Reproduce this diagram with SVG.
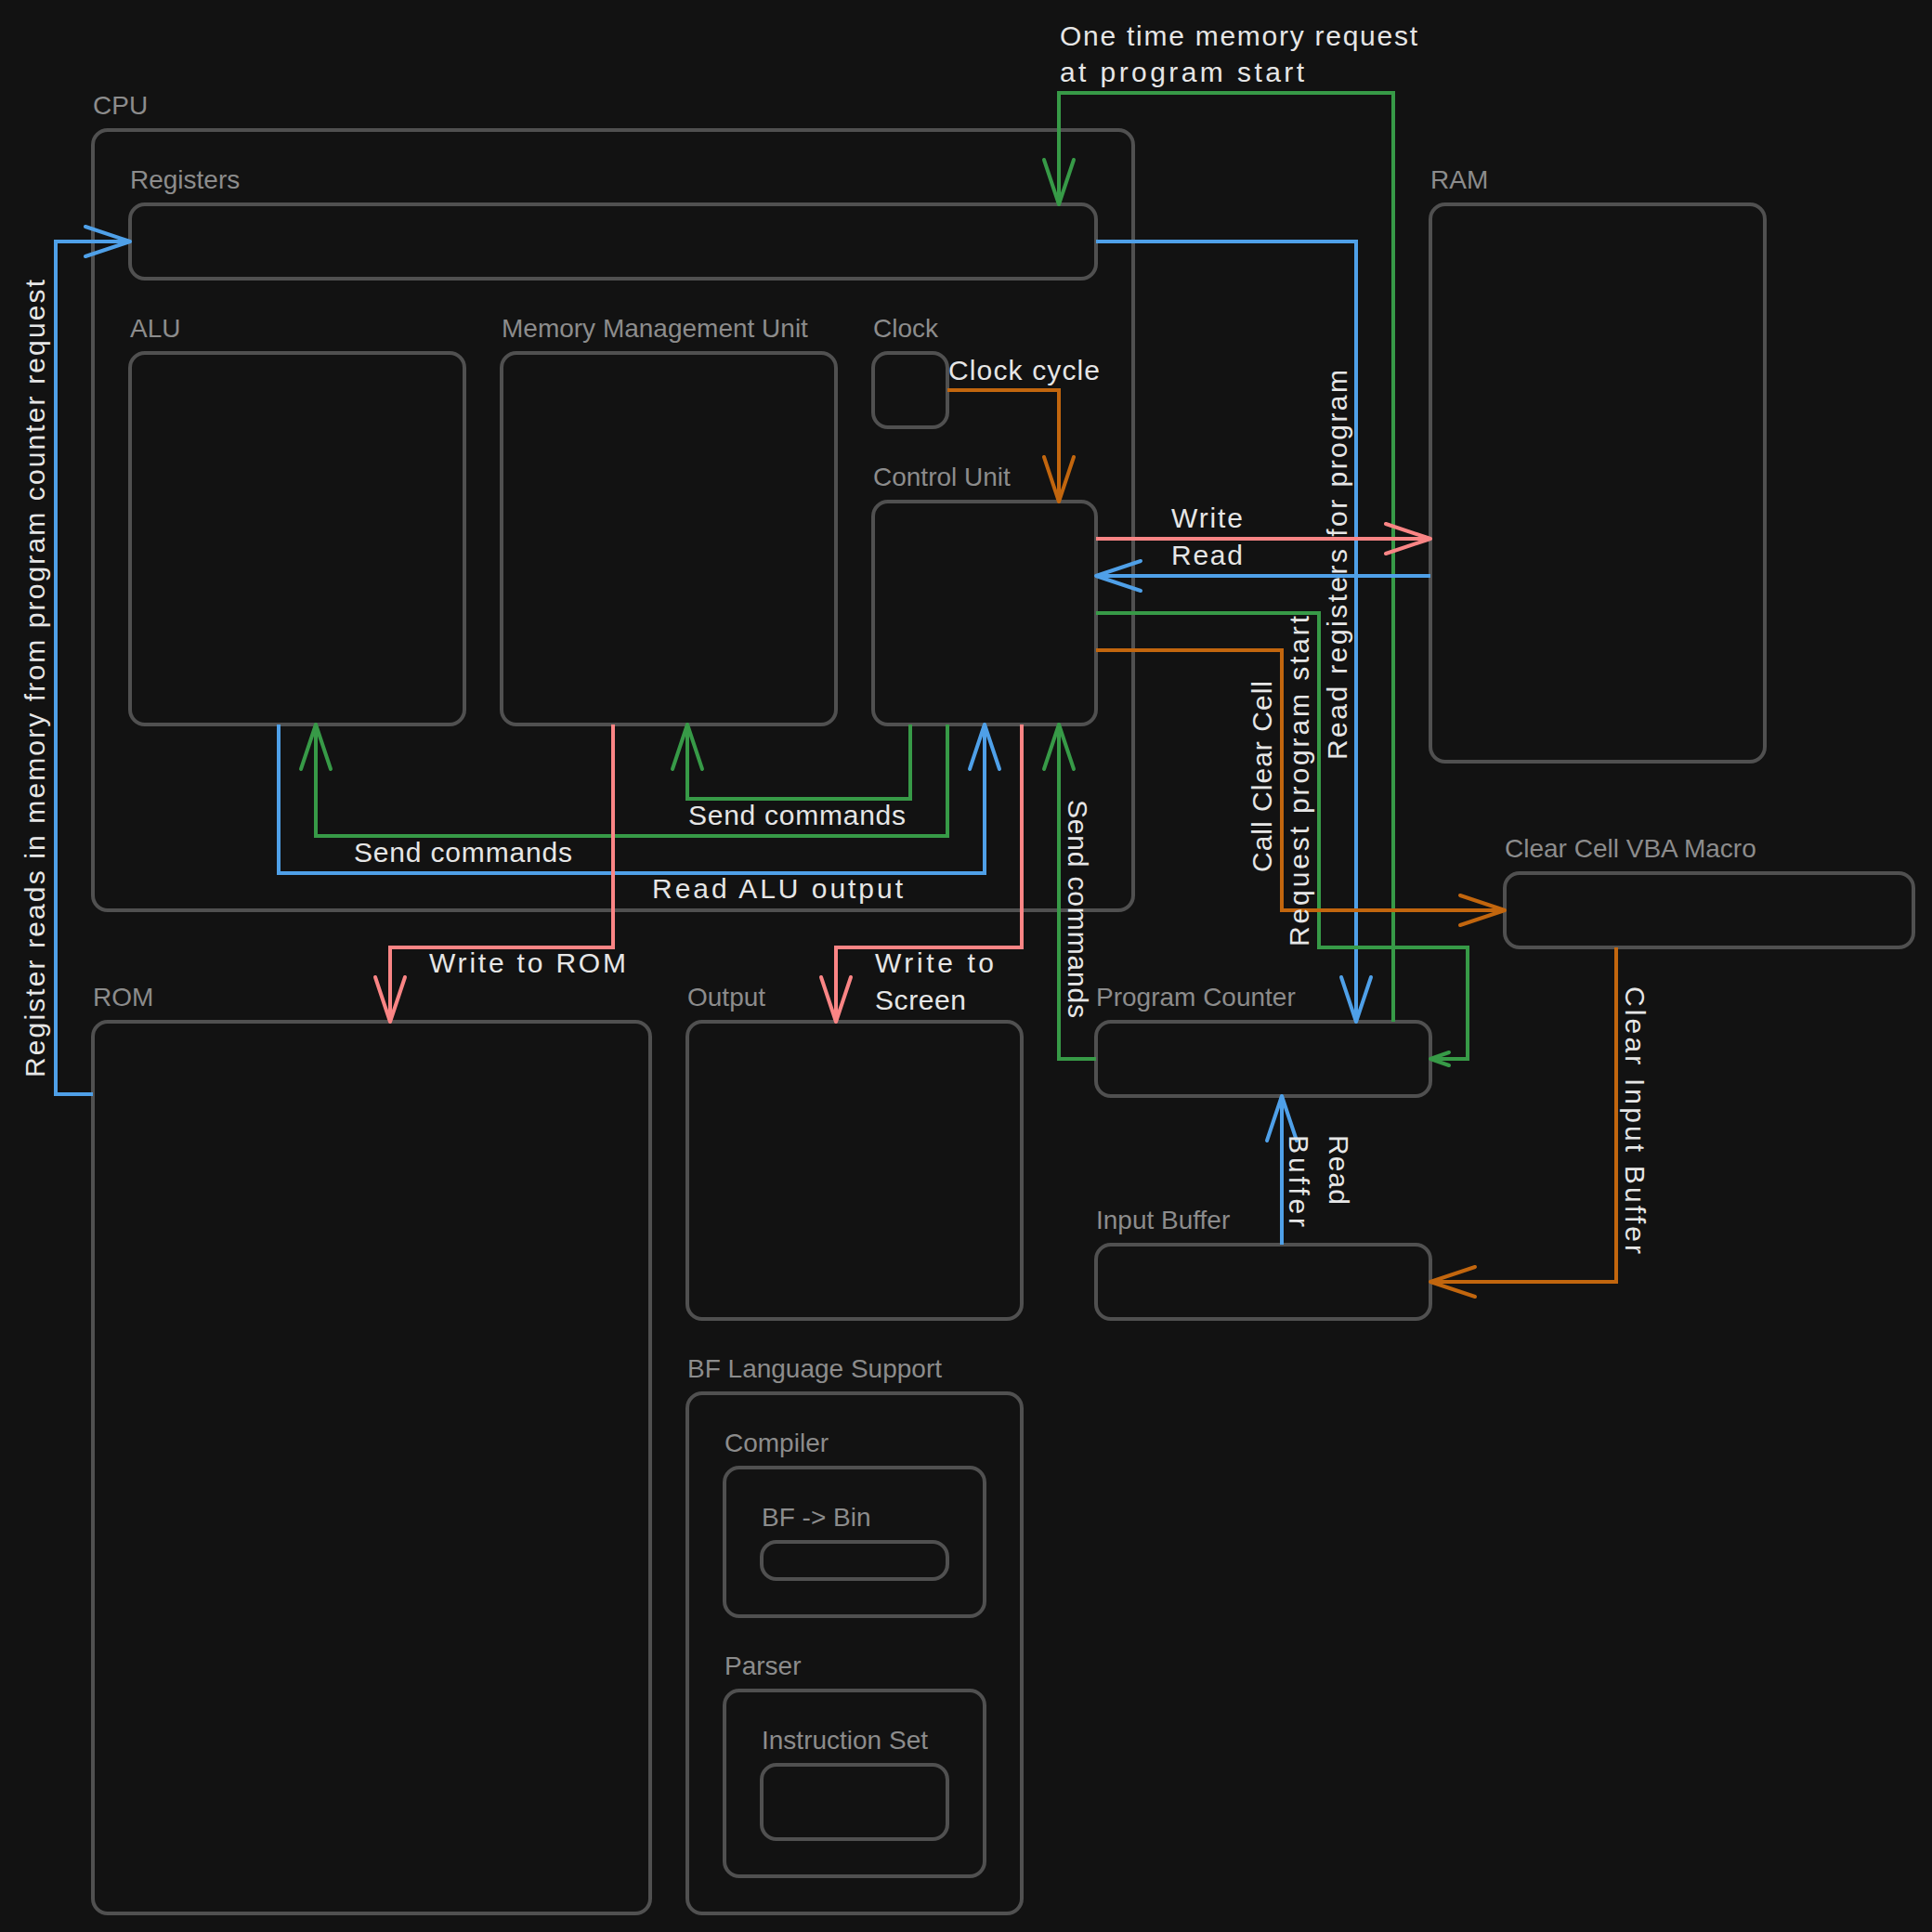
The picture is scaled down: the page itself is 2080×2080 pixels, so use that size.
<svg xmlns="http://www.w3.org/2000/svg" width="2080" height="2080" viewBox="0 0 2080 2080">
<style>
.box{fill:#121212;stroke:#505050;stroke-width:4}
.lbl{font-family:"Liberation Sans",Arial,sans-serif;font-size:28px;fill:#8c8c8c}
.hl{font-family:"Liberation Sans",Arial,sans-serif;font-size:30px;fill:#e6e6e6}
.c{fill:none;stroke-width:4;stroke-linejoin:miter}
.blue{stroke:#4fa0e8}
.green{stroke:#379a47}
.red{stroke:#fa8585}
.orange{stroke:#c2660e}
</style>
<defs>
<marker id="ab" viewBox="-52 -20 56 40" refX="0" refY="0" markerWidth="56" markerHeight="40" markerUnits="userSpaceOnUse" orient="auto" overflow="visible"><path d="M-48,-16 L0,0 L-48,16" fill="none" stroke="#4fa0e8" stroke-width="4" stroke-linecap="round" stroke-linejoin="round"/></marker>
<marker id="ag" viewBox="-52 -20 56 40" refX="0" refY="0" markerWidth="56" markerHeight="40" markerUnits="userSpaceOnUse" orient="auto" overflow="visible"><path d="M-48,-16 L0,0 L-48,16" fill="none" stroke="#379a47" stroke-width="4" stroke-linecap="round" stroke-linejoin="round"/></marker>
<marker id="ags" viewBox="-24 -10 28 20" refX="0" refY="0" markerWidth="28" markerHeight="20" markerUnits="userSpaceOnUse" orient="auto" overflow="visible"><path d="M-20,-7 L0,0 L-20,7" fill="none" stroke="#379a47" stroke-width="4" stroke-linecap="round" stroke-linejoin="round"/></marker>
<marker id="ar" viewBox="-52 -20 56 40" refX="0" refY="0" markerWidth="56" markerHeight="40" markerUnits="userSpaceOnUse" orient="auto" overflow="visible"><path d="M-48,-16 L0,0 L-48,16" fill="none" stroke="#fa8585" stroke-width="4" stroke-linecap="round" stroke-linejoin="round"/></marker>
<marker id="ao" viewBox="-52 -20 56 40" refX="0" refY="0" markerWidth="56" markerHeight="40" markerUnits="userSpaceOnUse" orient="auto" overflow="visible"><path d="M-48,-16 L0,0 L-48,16" fill="none" stroke="#c2660e" stroke-width="4" stroke-linecap="round" stroke-linejoin="round"/></marker>
</defs>
<rect x="0" y="0" width="2080" height="2080" fill="#121212"/>

<g id="cpu"><text class="lbl" x="100" y="123">CPU</text><rect class="box" x="100" y="140" width="1120" height="840" rx="16"/></g>
<g id="registers"><text class="lbl" x="140" y="203">Registers</text><rect class="box" x="140" y="220" width="1040" height="80" rx="16"/></g>
<g id="alu"><text class="lbl" x="140" y="363">ALU</text><rect class="box" x="140" y="380" width="360" height="400" rx="16"/></g>
<g id="mmu"><text class="lbl" x="540" y="363">Memory Management Unit</text><rect class="box" x="540" y="380" width="360" height="400" rx="16"/></g>
<g id="clock"><text class="lbl" x="940" y="363">Clock</text><rect class="box" x="940" y="380" width="80" height="80" rx="16"/></g>
<g id="control-unit"><text class="lbl" x="940" y="523">Control Unit</text><rect class="box" x="940" y="540" width="240" height="240" rx="16"/></g>
<g id="ram"><text class="lbl" x="1540" y="203">RAM</text><rect class="box" x="1540" y="220" width="360" height="600" rx="16"/></g>
<g id="clear-cell"><text class="lbl" x="1620" y="923">Clear Cell VBA Macro</text><rect class="box" x="1620" y="940" width="440" height="80" rx="16"/></g>
<g id="rom"><text class="lbl" x="100" y="1083">ROM</text><rect class="box" x="100" y="1100" width="600" height="960" rx="16"/></g>
<g id="output"><text class="lbl" x="740" y="1083">Output</text><rect class="box" x="740" y="1100" width="360" height="320" rx="16"/></g>
<g id="program-counter"><text class="lbl" x="1180" y="1083">Program Counter</text><rect class="box" x="1180" y="1100" width="360" height="80" rx="16"/></g>
<g id="input-buffer"><text class="lbl" x="1180" y="1323">Input Buffer</text><rect class="box" x="1180" y="1340" width="360" height="80" rx="16"/></g>
<g id="bf-support"><text class="lbl" x="740" y="1483">BF Language Support</text><rect class="box" x="740" y="1500" width="360" height="560" rx="16"/></g>
<g id="compiler"><text class="lbl" x="780" y="1563">Compiler</text><rect class="box" x="780" y="1580" width="280" height="160" rx="16"/></g>
<g id="bf-bin"><text class="lbl" x="820" y="1643">BF -&gt; Bin</text><rect class="box" x="820" y="1660" width="200" height="40" rx="16"/></g>
<g id="parser"><text class="lbl" x="780" y="1803">Parser</text><rect class="box" x="780" y="1820" width="280" height="200" rx="16"/></g>
<g id="instruction-set"><text class="lbl" x="820" y="1883">Instruction Set</text><rect class="box" x="820" y="1900" width="200" height="80" rx="16"/></g>

<g id="connectors">
<path class="c green" d="M1500,1100 V100 H1140 V220" marker-end="url(#ag)"/>
<path class="c blue" d="M1180,260 H1460 V1100" marker-end="url(#ab)"/>
<path class="c blue" d="M100,1178 H60 V260 H140" marker-end="url(#ab)"/>
<path class="c orange" d="M1020,420 H1140 V540" marker-end="url(#ao)"/>
<path class="c red" d="M1180,580 H1540" marker-end="url(#ar)"/>
<path class="c blue" d="M1540,620 H1180" marker-end="url(#ab)"/>
<path class="c green" d="M1180,660 H1420 V1020 H1580 V1140 H1540" marker-end="url(#ags)"/>
<path class="c orange" d="M1180,700 H1380 V980 H1620" marker-end="url(#ao)"/>
<path class="c orange" d="M1740,1020 V1380 H1540" marker-end="url(#ao)"/>
<path class="c blue" d="M1380,1340 V1180" marker-end="url(#ab)"/>
<path class="c green" d="M1180,1140 H1140 V780" marker-end="url(#ag)"/>
<path class="c green" d="M980,780 V860 H740 V780" marker-end="url(#ag)"/>
<path class="c green" d="M1020,780 V900 H340 V780" marker-end="url(#ag)"/>
<path class="c blue" d="M300,780 V940 H1060 V780" marker-end="url(#ab)"/>
<path class="c red" d="M660,780 V1020 H420 V1100" marker-end="url(#ar)"/>
<path class="c red" d="M1100,780 V1020 H900 V1100" marker-end="url(#ar)"/>

<text class="hl" x="1141" y="49" textLength="385" lengthAdjust="spacing">One time memory request</text>
<text class="hl" x="1141" y="88" textLength="263" lengthAdjust="spacing">at program start</text>
<text class="hl" x="1021" y="409" textLength="163" lengthAdjust="spacing">Clock cycle</text>
<text class="hl" x="1261" y="568" textLength="77" lengthAdjust="spacing">Write</text>
<text class="hl" x="1261" y="608" textLength="77" lengthAdjust="spacing">Read</text>
<text class="hl" x="741" y="888" textLength="234" lengthAdjust="spacing">Send commands</text>
<text class="hl" x="381" y="928" textLength="235" lengthAdjust="spacing">Send commands</text>
<text class="hl" x="702" y="967" textLength="270" lengthAdjust="spacing">Read ALU output</text>
<text class="hl" x="462" y="1047" textLength="212" lengthAdjust="spacing">Write to ROM</text>
<text class="hl" x="942" y="1047" textLength="128" lengthAdjust="spacing">Write to</text>
<text class="hl" x="942" y="1087" textLength="98" lengthAdjust="spacing">Screen</text>
<text class="hl" transform="translate(48,1160) rotate(-90)" textLength="859" lengthAdjust="spacing">Register reads in memory from program counter request</text>
<text class="hl" transform="translate(1450,818) rotate(-90)" textLength="420" lengthAdjust="spacing">Read registers for program</text>
<text class="hl" transform="translate(1409,1019) rotate(-90)" textLength="356" lengthAdjust="spacing">Request program start</text>
<text class="hl" transform="translate(1369,939) rotate(-90)" textLength="206" lengthAdjust="spacing">Call Clear Cell</text>
<text class="hl" transform="translate(1150,861) rotate(90)" textLength="235" lengthAdjust="spacing">Send commands</text>
<text class="hl" transform="translate(1750,1062) rotate(90)" textLength="288" lengthAdjust="spacing">Clear Input Buffer</text>
<text class="hl" transform="translate(1431,1222) rotate(90)" textLength="75" lengthAdjust="spacing">Read</text>
<text class="hl" transform="translate(1388,1222) rotate(90)" textLength="99" lengthAdjust="spacing">Buffer</text>
</g>
</svg>
